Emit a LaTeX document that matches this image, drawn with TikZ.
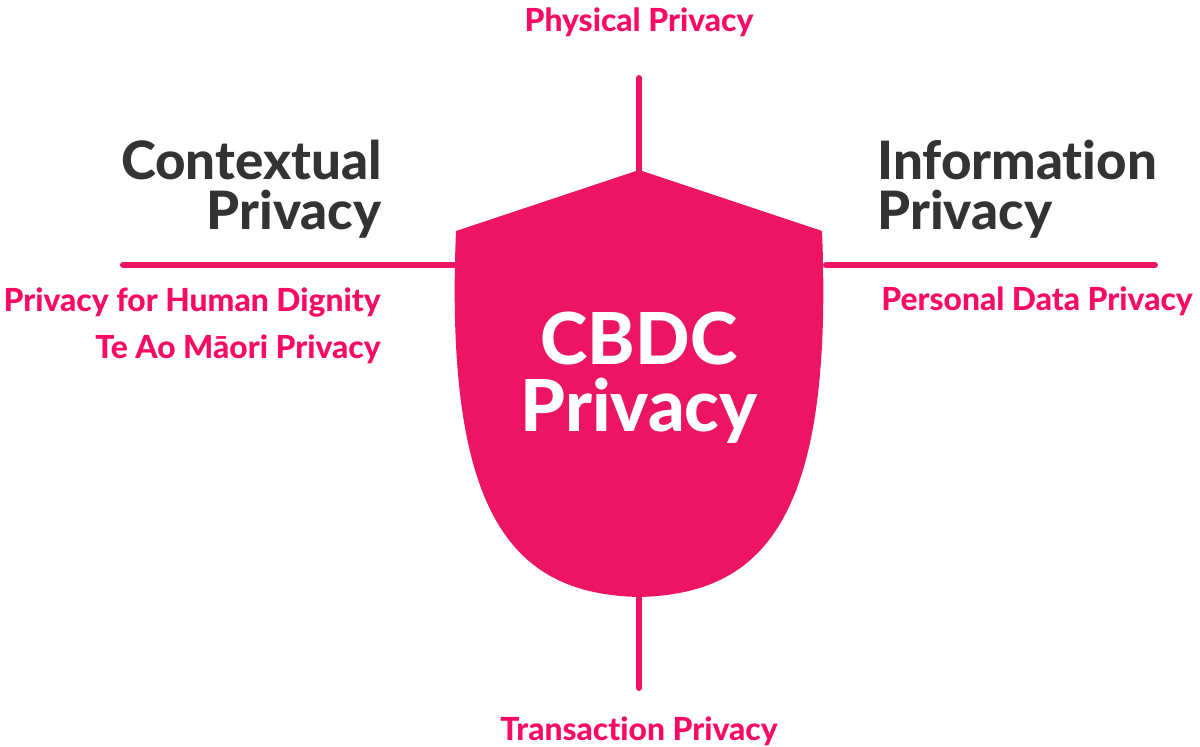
\documentclass[tikz,border=0pt]{standalone}
\usepackage{fontspec}
\setmainfont{Lato}[Ligatures=NoCommon, BoldFont={Lato Heavy}]
\usepackage{tikz}
\definecolor{shieldpink}{RGB}{237,20,100}
\definecolor{labelpink}{RGB}{250,10,100}
\definecolor{headgray}{RGB}{51,51,51}
\newcommand{\drawbar}{\draw[shieldpink, line width=3.4pt, line cap=round]}
\tikzset{
  smalllabel/.style={labelpink, inner sep=0pt, font=\fontsize{18.1}{20}\selectfont\bfseries},
  biglabel/.style={headgray, inner sep=0pt, font=\fontsize{30.1}{28.3}\selectfont\bfseries},
}

\begin{document}
\begin{tikzpicture}[x=0.02cm, y=-0.02cm]
\useasboundingbox (0,0) rectangle (1200,747);
% end points of the four bars
\coordinate (top) at (639,78);
\coordinate (bottom) at (639,688);
\coordinate (left) at (123,265);
\coordinate (right) at (1155,265);
\coordinate (shieldtop) at (639,172);
\coordinate (shieldbot) at (639,595);
\coordinate (shieldleft) at (454,265);
\coordinate (shieldright) at (826,265);
\drawbar (top)--(shieldtop);
\drawbar (shieldbot)--(bottom);
\drawbar (left)--(shieldleft);
\drawbar (shieldright)--(right);
% the shield
\fill[shieldpink] (639,170)--(456,231) .. controls (444,520) and (515,594) .. (639,597)
    .. controls (763,594) and (834,520) .. (822,231)--cycle;
\node[white, align=center, inner sep=0pt, font=\fontsize{40.8}{38}\selectfont\bfseries]
    (cbdc) at (639,378) {CBDC\\Privacy};
% headings
\node[biglabel, align=right, anchor=east] (context) at (382,189) {Contextual\\Privacy};
\node[biglabel, align=left, anchor=west] (inform) at (877,189) {Information\\Privacy};
% pink labels
\node[smalllabel] (phys) at (639,22) {Physical Privacy};
\node[smalllabel] (trans) at (639,731) {Transaction Privacy};
\node[smalllabel, anchor=east] (dignity) at (381,302) {Privacy for Human Dignity};
\node[smalllabel, anchor=east] (maori) at (381,349) {Te Ao Māori Privacy};
\node[smalllabel, anchor=west] (personal) at (881,301) {Personal Data Privacy};
\end{tikzpicture}
\end{document}
